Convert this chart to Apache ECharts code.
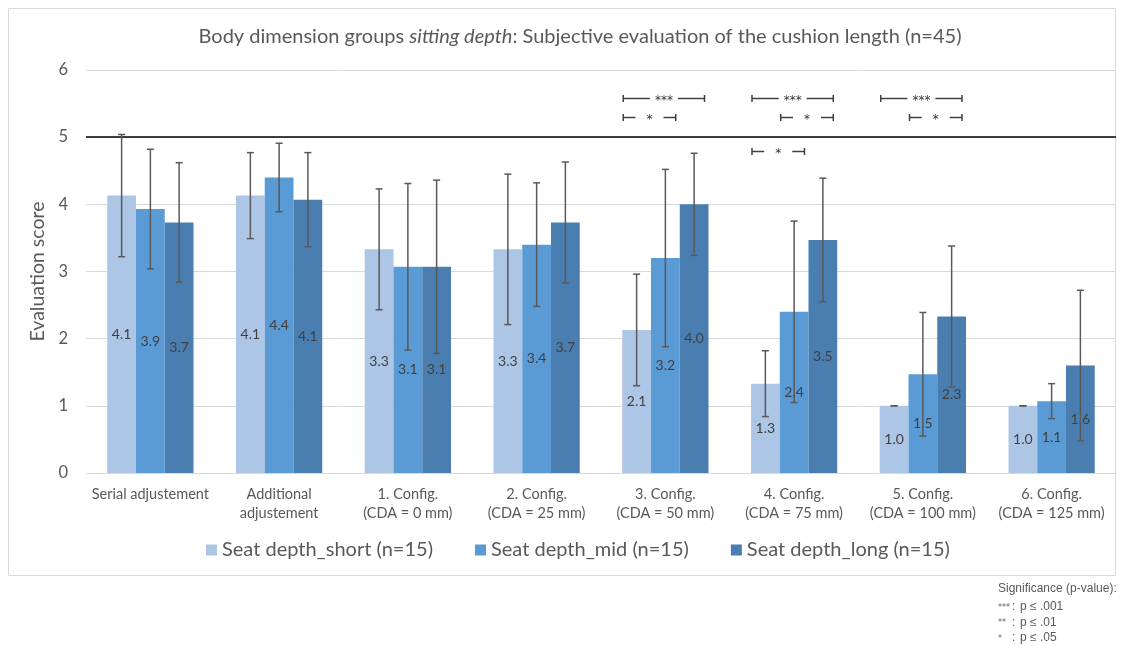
<!DOCTYPE html>
<html>
<head>
<meta charset="utf-8">
<script src="https://cdn.jsdelivr.net/npm/echarts@6/dist/echarts.min.js"></script>
<style>
    html, body { margin: 0; padding: 0; background: #fff; }
    #main { width: 1137px; height: 646px; }
</style>
</head>
<body>
<div id="main"></div>
<script>
var categories = ['Serial adjustement', 'Additional\nadjustement', '1. Config.\n(CDA = 0 mm)', '2. Config.\n(CDA = 25 mm)',
    '3. Config.\n(CDA = 50 mm)', '4. Config.\n(CDA = 75 mm)', '5. Config.\n(CDA = 100 mm)', '6. Config.\n(CDA = 125 mm)'];
var seriesNames = ['Seat depth_short (n=15)', 'Seat depth_mid (n=15)', 'Seat depth_long (n=15)'];
var yTicks = [0, 1, 2, 3, 4, 5, 6];

// means
var shortMean = [4.13, 4.13, 3.33, 3.33, 2.13, 1.33, 1.00, 1.00];
var midMean = [3.93, 4.40, 3.07, 3.40, 3.20, 2.40, 1.47, 1.07];
var longMean = [3.73, 4.07, 3.07, 3.73, 4.00, 3.47, 2.33, 1.60];
// standard deviations (error bars)
var shortSd = [0.91, 0.64, 0.90, 1.12, 0.83, 0.49, 0.00, 0.00];
var midSd = [0.89, 0.51, 1.24, 0.92, 1.32, 1.35, 0.92, 0.26];
var longSd = [0.89, 0.70, 1.29, 0.90, 0.76, 0.92, 1.05, 1.12];

// significance brackets: [category, from series, to series, height, stars]
var sigBrackets = [
    [4, 0, 2, 5.59, '***'],
    [4, 0, 1, 5.30, '*'],
    [5, 0, 2, 5.59, '***'],
    [5, 1, 2, 5.30, '*'],
    [5, 0, 1, 4.80, '*'],
    [6, 0, 2, 5.59, '***'],
    [6, 1, 2, 5.30, '*']
];
var refLine = 5;

var colors = ['#adc6e5', '#5b9bd5', '#4a7eb0'];
var fontFam = 'Lato, "Liberation Sans", sans-serif';
var textGray = '#595959';

var means = [shortMean, midMean, longMean];
var sds = [shortSd, midSd, longSd];

var errData = [];
for (var s = 0; s < 3; s++) {
    for (var c = 0; c < categories.length; c++) {
        errData.push([c, s, means[s][c] - sds[s][c], means[s][c] + sds[s][c]]);
    }
}

var barFrac = 0.67; // share of the category band used by the 3 bars

function barX(center, band, idx) {
    var w = band * barFrac / 3;
    return center - 1.5 * w + idx * w;  // left edge of bar idx
}

var chart = echarts.init(document.getElementById('main'));

var barSeries = seriesNames.map(function (name, i) {
    var item = {
        name: name,
        type: 'bar',
        data: means[i],
        barGap: '0%',
        barCategoryGap: '33%',
        itemStyle: { color: colors[i] },
        label: {
            show: true,
            position: 'inside',
            color: '#404040',
            fontSize: 14,
            fontFamily: fontFam,
            formatter: function (p) { return p.value.toFixed(1); }
        },
        z: 2
    };
    if (i === 0) {
        item.markLine = {
            silent: true,
            symbol: 'none',
            label: { show: false },
            lineStyle: { color: '#000', width: 1.5, type: 'solid' },
            data: [{ yAxis: refLine }],
            z: 3
        };
    }
    return item;
});

var option = {
    animation: false,
    textStyle: { fontFamily: fontFam },
    title: {
        text: '{n|Body dimension groups }{i|sitting depth}{n|: Subjective evaluation of the cushion length (n=45)}',
        left: 575,
        textAlign: 'center',
        top: 22,
        textStyle: {
            fontWeight: 'normal',
            rich: {
                n: { fontSize: 20, color: textGray, fontFamily: fontFam, fontWeight: 'normal' },
                i: { fontSize: 20, color: textGray, fontFamily: fontFam, fontWeight: 'normal', fontStyle: 'italic' }
            }
        }
    },
    legend: {
        data: seriesNames,
        left: 201,
        top: 535,
        icon: 'rect',
        itemWidth: 11,
        itemHeight: 11,
        itemGap: 42,
        textStyle: { fontSize: 20, color: textGray, fontFamily: fontFam }
    },
    grid: {
        left: 86,
        right: 21,
        top: 70,
        bottom: 173
    },
    xAxis: {
        type: 'category',
        data: categories,
        axisTick: { show: false },
        axisLine: { lineStyle: { color: '#d9d9d9', width: 1 } },
        axisLabel: {
            color: textGray,
            fontSize: 14.5,
            lineHeight: 19,
            margin: 12,
            interval: 0,
            fontFamily: fontFam
        }
    },
    yAxis: {
        type: 'value',
        min: yTicks[0],
        max: yTicks[yTicks.length - 1],
        interval: 1,
        name: 'Evaluation score',
        nameLocation: 'middle',
        nameGap: 28,
        nameTextStyle: { fontSize: 19.5, color: textGray, fontFamily: fontFam },
        axisLine: { show: false },
        axisTick: { show: false },
        axisLabel: { color: textGray, fontSize: 16.5, margin: 18, fontFamily: fontFam },
        splitLine: { lineStyle: { color: '#d9d9d9', width: 1 } }
    },
    graphic: [
        {
            type: 'rect',
            shape: { x: 8.5, y: 8.5, width: 1107, height: 567 },
            style: { fill: 'none', stroke: '#d9d9d9', lineWidth: 1 },
            silent: true
        },
        {
            type: 'text',
            left: 998,
            top: 583,
            style: { text: 'Significance (p-value):', fontSize: 12, fill: textGray, fontFamily: 'Liberation Sans' }
        },
        {
            type: 'text',
            left: 998,
            top: 600,
            style: { text: '***\n**\n*', fontSize: 8, lineHeight: 15.5, fill: textGray, fontFamily: 'DejaVu Sans' }
        },
        {
            type: 'text',
            left: 1012,
            top: 599,
            style: { text: ':\n:\n:', fontSize: 12, lineHeight: 15.5, fill: textGray, fontFamily: 'Liberation Sans' }
        },
        {
            type: 'text',
            left: 1020,
            top: 599,
            style: { text: 'p \u2264 .001\np \u2264 .01\np \u2264 .05', fontSize: 12, lineHeight: 15.5, fill: textGray, fontFamily: 'Liberation Sans' }
        }
    ],
    series: barSeries.concat([
        {
            name: 'errorbars',
            type: 'custom',
            data: errData,
            encode: { x: 0, y: [2, 3] },
            z: 5,
            silent: true,
            renderItem: function (params, api) {
                var c = api.value(0);
                var s = api.value(1);
                var lo = api.coord([c, api.value(2)]);
                var hi = api.coord([c, api.value(3)]);
                var band = api.size([1, 0])[0];
                var w = band * barFrac / 3;
                var x = barX(lo[0], band, s) + w / 2;
                var cap = 3.5;
                var st = { stroke: '#595959', lineWidth: 1.5 };
                return {
                    type: 'group',
                    children: [
                        { type: 'line', shape: { x1: x, y1: lo[1], x2: x, y2: hi[1] }, style: st },
                        { type: 'line', shape: { x1: x - cap, y1: lo[1], x2: x + cap, y2: lo[1] }, style: st },
                        { type: 'line', shape: { x1: x - cap, y1: hi[1], x2: x + cap, y2: hi[1] }, style: st }
                    ]
                };
            }
        },
        {
            name: 'significance',
            type: 'custom',
            data: sigBrackets,
            encode: { x: 0, y: 3 },
            z: 6,
            silent: true,
            renderItem: function (params, api) {
                var c = api.value(0);
                var from = api.value(1);
                var to = api.value(2);
                var p = api.coord([c, api.value(3)]);
                var band = api.size([1, 0])[0];
                var w = band * barFrac / 3;
                var x1 = barX(p[0], band, from) + 1;
                var x2 = barX(p[0], band, to) + w - 4;
                var mid = (x1 + x2) / 2;
                var gap = 14;
                var y = Math.round(p[1]) + 0.5;
                var st = { stroke: '#404040', lineWidth: 1.5 };
                return {
                    type: 'group',
                    children: [
                        { type: 'line', shape: { x1: x1, y1: y, x2: mid - gap, y2: y }, style: st },
                        { type: 'line', shape: { x1: mid + gap, y1: y, x2: x2, y2: y }, style: st },
                        { type: 'line', shape: { x1: x1, y1: y - 3.5, x2: x1, y2: y + 3.5 }, style: st },
                        { type: 'line', shape: { x1: x2, y1: y - 3.5, x2: x2, y2: y + 3.5 }, style: st },
                        {
                            type: 'text',
                            style: {
                                x: mid, y: y + 2,
                                text: sigBrackets[params.dataIndex][4],
                                align: 'center', verticalAlign: 'middle',
                                fontSize: 12,
                                fill: '#333333', fontFamily: 'DejaVu Sans'
                            }
                        }
                    ]
                };
            }
        }
    ])
};

chart.setOption(option);
</script>
</body>
</html>
